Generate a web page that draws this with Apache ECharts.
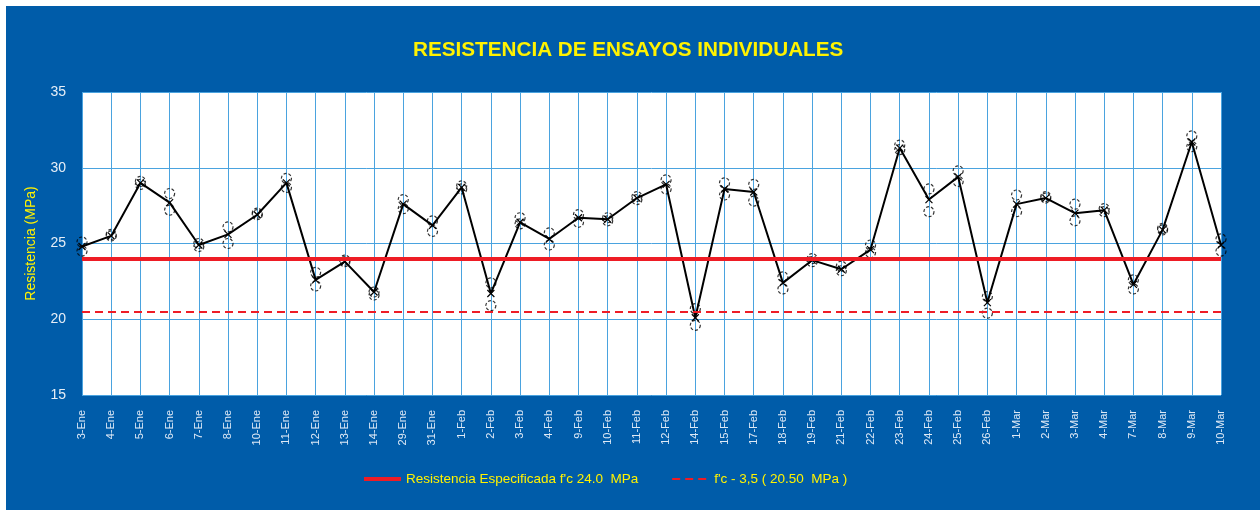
<!DOCTYPE html>
<html>
<head>
<meta charset="utf-8">
<script src="https://cdn.jsdelivr.net/npm/echarts@6/dist/echarts.min.js"></script>
<style>
  html, body { margin: 0; padding: 0; background: #fff; }
  #chart { position: absolute; left: 6px; top: 6px; width: 1254px; height: 504px; }
</style>
</head>
<body>
<div id="chart"></div>
<script>
const fechas = [
  '3-Ene', '4-Ene', '5-Ene', '6-Ene', '7-Ene', '8-Ene', '10-Ene', '11-Ene',
  '12-Ene', '13-Ene', '14-Ene', '29-Ene', '31-Ene', '1-Feb', '2-Feb', '3-Feb',
  '4-Feb', '9-Feb', '10-Feb', '11-Feb', '12-Feb', '14-Feb', '15-Feb', '17-Feb',
  '18-Feb', '19-Feb', '21-Feb', '22-Feb', '23-Feb', '24-Feb', '25-Feb', '26-Feb',
  '1-Mar', '2-Mar', '3-Mar', '4-Mar', '7-Mar', '8-Mar', '9-Mar', '10-Mar',
]

// probeta 1 y probeta 2 (circulos), promedio (linea negra)
const ensayo1 = [
  25.1, 25.6, 29.1, 28.3, 25.0, 26.1, 27.0, 29.3,
  23.1, 23.9, 21.8, 27.9, 26.5, 28.8, 22.4, 26.7,
  25.7, 26.9, 26.7, 28.1, 29.2, 20.7, 29.0, 28.9,
  22.8, 24.0, 23.5, 24.9, 31.5, 28.6, 29.8, 21.5,
  28.2, 28.1, 27.6, 27.3, 22.6, 26.0, 32.1, 25.3,
]
const ensayo2 = [
  24.5, 25.5, 28.9, 27.2, 24.8, 25.0, 26.9, 28.7,
  22.2, 23.8, 21.6, 27.3, 25.8, 28.6, 20.9, 26.3,
  24.9, 26.4, 26.5, 27.9, 28.6, 19.6, 28.2, 27.8,
  22.0, 23.8, 23.2, 24.4, 31.2, 27.1, 29.1, 20.4,
  27.1, 28.0, 26.5, 27.1, 22.0, 25.9, 31.4, 24.5,
]
const promedio = [
  24.8, 25.5, 29.0, 27.7, 24.9, 25.6, 26.9, 29.0,
  22.6, 23.8, 21.8, 27.6, 26.2, 28.7, 21.7, 26.4,
  25.3, 26.7, 26.6, 28.0, 28.9, 20.1, 28.6, 28.4,
  22.4, 23.9, 23.3, 24.6, 31.3, 27.9, 29.4, 21.1,
  27.6, 28.0, 27.0, 27.2, 22.3, 25.9, 31.7, 24.9,
]

const fcEspecificada = 24.0
const fcMenos = 20.5
const yTicks = [15, 35, 5] // min, max, interval

const nombreFc = "Resistencia Especificada f'c 24.0  MPa"
const nombreFcMenos = "f'c - 3,5 ( 20.50  MPa )"

const azul = '#005ca9'
const rejilla = '#4aa3df'
const amarillo = '#fff200'
const rojo = '#ee1c25'
const fuente = '"Liberation Sans", Arial, sans-serif'

const circulo = {
  color: 'rgba(0,0,0,0)',
  borderColor: '#000',
  borderWidth: 1.2,
  borderType: [3, 2],
}

const myChart = echarts.init(document.getElementById('chart'), null, {
  renderer: 'canvas',
})

const option = {
  animation: false,
  backgroundColor: azul,
  textStyle: { fontFamily: fuente },
  title: {
    text: 'RESISTENCIA DE ENSAYOS INDIVIDUALES',
    left: 407,
    top: 34,
    padding: 0,
    textStyle: {
      color: amarillo,
      fontSize: 20.7,
      fontWeight: 'bold',
      fontFamily: fuente,
    },
  },
  legend: {
    data: [
      { name: nombreFc, lineStyle: { width: 4 } },
      { name: nombreFcMenos, lineStyle: { width: 2 } },
    ],
    left: 356,
    top: 466,
    padding: 0,
    itemWidth: 37,
    itemHeight: 14,
    itemGap: 33,
    itemStyle: { opacity: 0 },
    textStyle: { color: amarillo, fontSize: 13.5, fontFamily: fuente },
    selectedMode: false,
  },
  grid: {
    show: true,
    backgroundColor: '#fff',
    borderWidth: 0,
    left: 76,
    right: 39,
    top: 86,
    bottom: 115,
  },
  xAxis: {
    type: 'category',
    data: fechas,
    boundaryGap: false,
    axisLine: { show: false },
    axisTick: { show: false },
    axisLabel: {
      rotate: 90,
      interval: 0,
      margin: 15,
      color: '#dde9f6',
      fontSize: 11,
      fontFamily: fuente,
    },
    splitLine: {
      show: true,
      interval: 0,
      lineStyle: { color: rejilla, width: 1 },
    },
  },
  yAxis: {
    type: 'value',
    min: yTicks[0],
    max: yTicks[1],
    interval: yTicks[2],
    name: 'Resistencia (MPa)',
    nameLocation: 'middle',
    nameRotate: 90,
    nameGap: 44,
    nameTextStyle: { color: amarillo, fontSize: 14, fontFamily: fuente },
    axisLine: { show: false },
    axisTick: { show: false },
    axisLabel: {
      margin: 16,
      color: '#e6eef7',
      fontSize: 14,
      fontFamily: fuente,
    },
    splitLine: { lineStyle: { color: rejilla, width: 1 } },
  },
  series: [
    {
      name: nombreFc,
      type: 'line',
      data: [],
      symbol: 'none',
      z: 1,
      lineStyle: { color: rojo, width: 4 },
      itemStyle: { color: rojo },
      markLine: {
        silent: true,
        symbol: 'none',
        label: { show: false },
        lineStyle: { color: rojo, width: 4, type: 'solid' },
        data: [{ yAxis: fcEspecificada }],
      },
    },
    {
      name: nombreFcMenos,
      type: 'line',
      data: [],
      symbol: 'none',
      z: 1,
      lineStyle: { color: rojo, width: 2, type: [8, 5] },
      itemStyle: { color: rojo },
      markLine: {
        silent: true,
        symbol: 'none',
        label: { show: false },
        lineStyle: { color: rojo, width: 2, type: [8, 5] },
        data: [{ yAxis: fcMenos }],
      },
    },
    {
      name: 'Promedio',
      type: 'line',
      data: promedio,
      z: 3,
      symbol: 'path://M0,0L10,10M10,0L0,10',
      symbolSize: 7,
      showAllSymbol: true,
      lineStyle: { color: '#000', width: 2 },
      itemStyle: { color: '#000', borderColor: '#000', borderWidth: 1.2 },
    },
    {
      name: 'Ensayo 1',
      type: 'scatter',
      data: ensayo1,
      z: 4,
      symbol: 'circle',
      symbolSize: 10,
      itemStyle: circulo,
    },
    {
      name: 'Ensayo 2',
      type: 'scatter',
      data: ensayo2,
      z: 4,
      symbol: 'circle',
      symbolSize: 10,
      itemStyle: circulo,
    },
  ],
}

option && myChart.setOption(option)
</script>
</body>
</html>
